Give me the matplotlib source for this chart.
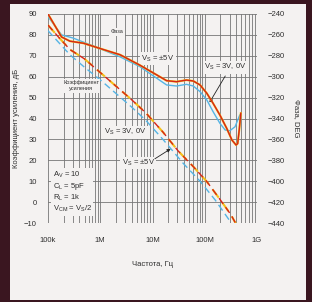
import numpy as np
import matplotlib
matplotlib.use("Agg")
import matplotlib.pyplot as plt
from matplotlib.patches import Rectangle
from matplotlib.ticker import FixedLocator, NullFormatter

plt.rcParams['font.family'] = ['Liberation Sans', 'DejaVu Sans']
plt.rcParams['mathtext.fontset'] = 'custom'
plt.rcParams['mathtext.rm'] = 'Liberation Sans'
plt.rcParams['mathtext.it'] = 'Liberation Sans'

# ---- data (log10 frequency in Hz) ----
gain_pm5_logf = [5.0, 5.2, 5.42, 5.7, 6.0, 6.3, 6.6, 6.876, 7.2, 7.49, 7.78, 8.04, 8.3, 8.5, 8.61]
gain_pm5_db = [84.7, 79, 73, 68.5, 62, 55.5, 49, 42.6, 33.5, 24.5, 17, 9.8, 1, -6, -11]

gain_3v_logf = [5.0, 5.2, 5.42, 5.7, 6.0, 6.3, 6.6, 6.876, 7.2, 7.59, 7.91, 8.2, 8.48]
gain_3v_db = [82, 76.5, 70.5, 64.5, 58.5, 52, 45.5, 39, 30, 18.5, 10, 1, -9]

phase_pm5_logf = [5.0, 5.26, 5.42, 5.68, 6.06, 6.38, 6.57, 6.76, 6.95, 7.27, 7.46, 7.65,
                  7.78, 7.91, 8.04, 8.16, 8.29, 8.42, 8.52, 8.60, 8.63, 8.66, 8.69]
phase_pm5_deg = [-240, -262, -266, -268, -274, -279, -284, -289, -294.5, -303.8, -304.8, -303.2,
                 -304.1, -307.9, -315.9, -325.5, -336.7, -349.4, -360.6, -365.4, -364, -351, -335]

phase_3v_logf = [5.0, 5.26, 5.48, 6.06, 6.38, 6.76, 6.95, 7.27, 7.46, 7.65, 7.78, 7.91,
                 8.04, 8.16, 8.29, 8.39, 8.48, 8.58, 8.67]
phase_3v_deg = [-242.5, -260, -263, -274.5, -281, -290.4, -297, -307.9, -308.9, -307.3, -308.9, -314.3,
                -322.3, -333.5, -344.6, -351, -351.7, -347.9, -336.7]

xticks = [1e5, 1e6, 1e7, 1e8, 1e9]
xtick_labels = ['100k', '1M', '10M', '100M', '1G']
gain_ticks = list(range(-10, 100, 10))
phase_ticks = list(range(-440, -220, 20))

RED = '#d62418'
YEL = '#f5c018'
BLUE = '#55b4e4'
GRID = '#767676'
TXT = '#2e2e2e'

W, H = 312, 302
fig = plt.figure(figsize=(W / 100, H / 100), dpi=100, facecolor='#3a1620')
fig.patches.append(Rectangle((10 / W, 2 / H), (306 - 10) / W, (298 - 2) / H,
                             transform=fig.transFigure, facecolor='#f4f2f1',
                             edgecolor='none', zorder=-10))

ax = fig.add_axes([48 / W, 1 - 223 / H, 209 / W, 209 / H])
ax.set_facecolor('none')
ax.set_xscale('log')
ax.set_xlim(1e5, 1e9)
ax.set_ylim(-10, 90)

# grid
minor = [m * 10 ** e for e in range(5, 9) for m in range(1, 10)] + [1e9]
ax.xaxis.set_minor_locator(FixedLocator(minor))
ax.xaxis.set_minor_formatter(NullFormatter())
ax.set_xticks(xticks)
ax.set_xticklabels(xtick_labels)
ax.set_yticks(gain_ticks)
ax.grid(True, which='both', axis='x', color=GRID, lw=0.6)
ax.grid(True, which='major', axis='y', color=GRID, lw=0.6)
ax.tick_params(which='both', length=0, labelsize=5.5, colors=TXT)
ax.tick_params(axis='y', pad=8)
ax.tick_params(axis='x', pad=10)
for s in ax.spines.values():
    s.set_visible(False)

ax.set_ylabel('Коэффициент усиления, дБ', fontsize=5.5, color=TXT)
ax.yaxis.set_label_coords(-0.134, 0.5)
ax.set_xlabel('Частота, Гц', fontsize=5.5, color=TXT, labelpad=12)

# gain (dashed)
f_g5 = 10 ** np.array(gain_pm5_logf)
f_g3 = 10 ** np.array(gain_3v_logf)
dash = (0, (5, 3))
ax.plot(f_g3, gain_3v_db, color=BLUE, lw=1.0, linestyle=dash, zorder=3)
ax.plot(f_g5, gain_pm5_db, color=YEL, lw=1.5, linestyle=dash, zorder=3)
ax.plot(f_g5, gain_pm5_db, color=RED, lw=1.0, linestyle=dash, zorder=4)

# phase (solid) on right axis
ax2 = ax.twinx()
ax2.set_ylim(-440, -240)
ax2.set_yticks(phase_ticks)
ax2.tick_params(length=0, labelsize=5.5, colors=TXT, pad=8)
for s in ax2.spines.values():
    s.set_visible(False)
ax2.set_ylabel('Фаза, DEG', fontsize=5.5, color=TXT, rotation=-90, va='center')
ax2.yaxis.set_label_coords(1.191, 0.5)

f_p5 = 10 ** np.array(phase_pm5_logf)
f_p3 = 10 ** np.array(phase_3v_logf)
ax2.plot(f_p3, phase_3v_deg, color=BLUE, lw=1.0, zorder=3)
ax2.plot(f_p5, phase_pm5_deg, color=YEL, lw=1.5, zorder=3)
ax2.plot(f_p5, phase_pm5_deg, color=RED, lw=1.0, zorder=4)

box = dict(facecolor='#f4f2f1', edgecolor='none', pad=1)
tk = dict(transform=ax.transAxes, color=TXT, zorder=10)

ax.text(0.330, 0.914, 'Фаза', fontsize=4, ha='center', va='center', bbox=box, **tk)
ax.text(0.158, 0.656, 'Коэффициент\nусиления', fontsize=4, ha='center', va='center',
        linespacing=1.2, bbox=box, **tk)
ax.text(0.526, 0.785, r'$\mathregular{V_S}$ = ±5V', fontsize=5.5, ha='center', va='center', bbox=box, **tk)
ax.text(0.368, 0.435, r'$\mathregular{V_S}$ = 3V, 0V', fontsize=5.5, ha='center', va='center', bbox=box, **tk)
ax.text(0.431, 0.287, r'$\mathregular{V_S}$ = ±5V', fontsize=5.5, ha='center', va='center', bbox=box, **tk)
ax.text(0.848, 0.746, r'$\mathregular{V_S}$ = 3V, 0V', fontsize=5.5, ha='center', va='center', bbox=box, **tk)

ax.annotate('', xy=(0.766, 0.565), xytext=(0.855, 0.715), xycoords='axes fraction',
            arrowprops=dict(arrowstyle='-|>', color='#222222', lw=0.6, mutation_scale=5), zorder=11)
ax.annotate('', xy=(0.598, 0.362), xytext=(0.50, 0.30), xycoords='axes fraction',
            arrowprops=dict(arrowstyle='-|>', color='#222222', lw=0.6, mutation_scale=5), zorder=11)

ax.text(0.022, 0.255,
        r'$\mathregular{A_V}$ = 10' '\n'
        r'$\mathregular{C_L}$ = 5pF' '\n'
        r'$\mathregular{R_L}$ = 1k' '\n'
        r'$\mathregular{V_{CM}}$ = $\mathregular{V_S}$/2',
        fontsize=5.5, ha='left', va='top', linespacing=1.15, bbox=box, **tk)

fig.savefig('out.png', dpi=100, facecolor=fig.get_facecolor())
